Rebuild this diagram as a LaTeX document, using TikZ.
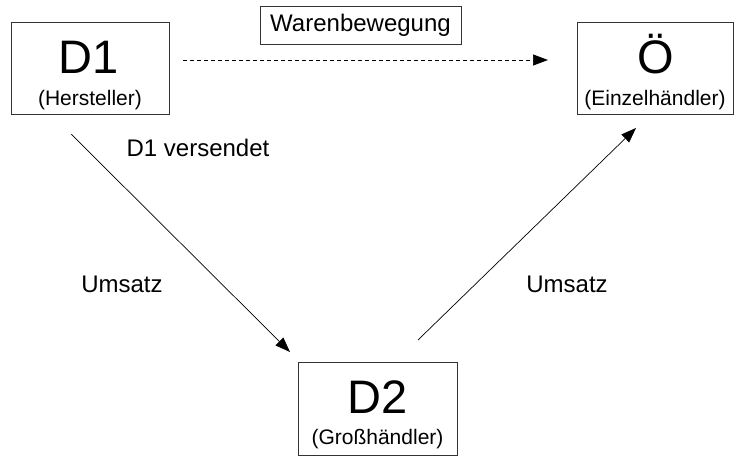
\documentclass[tikz,border=0pt]{standalone}
\usepackage{fontspec}
\setmainfont{Liberation Sans}
\usetikzlibrary{arrows.meta}
\begin{document}
\begin{tikzpicture}[x=1pt,y=-1pt,
  box/.style={draw=black!80, line width=0.8pt, inner sep=0pt},
  big/.style={font=\fontsize{47}{50}\selectfont, inner sep=0pt, anchor=base},
  small/.style={font=\fontsize{21}{24}\selectfont, inner sep=0pt, anchor=base},
  lbl/.style={font=\fontsize{24}{28}\selectfont, inner sep=0pt},
  conn/.style={line width=0.7pt, -{Triangle[length=15pt,width=11pt]}}
]
\useasboundingbox (0,0) rectangle (736,457);
% boxes
\node[box, minimum width=158pt, minimum height=92pt] (d1) at (90,68) {};
\node[box, minimum width=156pt, minimum height=92pt] (oe) at (655,68) {};
\node[box, minimum width=159pt, minimum height=93pt] (d2) at (377.5,408.5) {};
\node[box, minimum width=201pt, minimum height=38pt] (wb) at (360.5,25) {};
% texts
\node[big] (d1t) at (89,74) {D1};
\node[small] (d1s) at (90,106) {(Hersteller)};
\node[big] (oet) at (656,74) {Ö};
\node[small] (oes) at (655,106) {(Einzelhändler)};
\node[big] (d2t) at (377.5,413) {D2};
\node[small] (d2s) at (377.5,444) {(Großhändler)};
\node[lbl] (wbt) at (wb.center) {Warenbewegung};
\node[lbl] (ver) at (198,148) {D1 versendet};
\node[lbl] (u1) at (122,284) {Umsatz};
\node[lbl] (u2) at (567,284) {Umsatz};
% connector ends
\coordinate (a1s) at (71,134);
\coordinate (a1e) at (290,352);
\coordinate (a2s) at (418,340);
\coordinate (a2e) at (636,128);
\coordinate (ds) at (183,60);
\coordinate (de) at (548,60);
\draw[conn] (a1s) -- (a1e);
\draw[conn] (a2s) -- (a2e);
\draw[conn, dash pattern=on 4pt off 3pt] (ds) -- (de);
\end{tikzpicture}
\end{document}
